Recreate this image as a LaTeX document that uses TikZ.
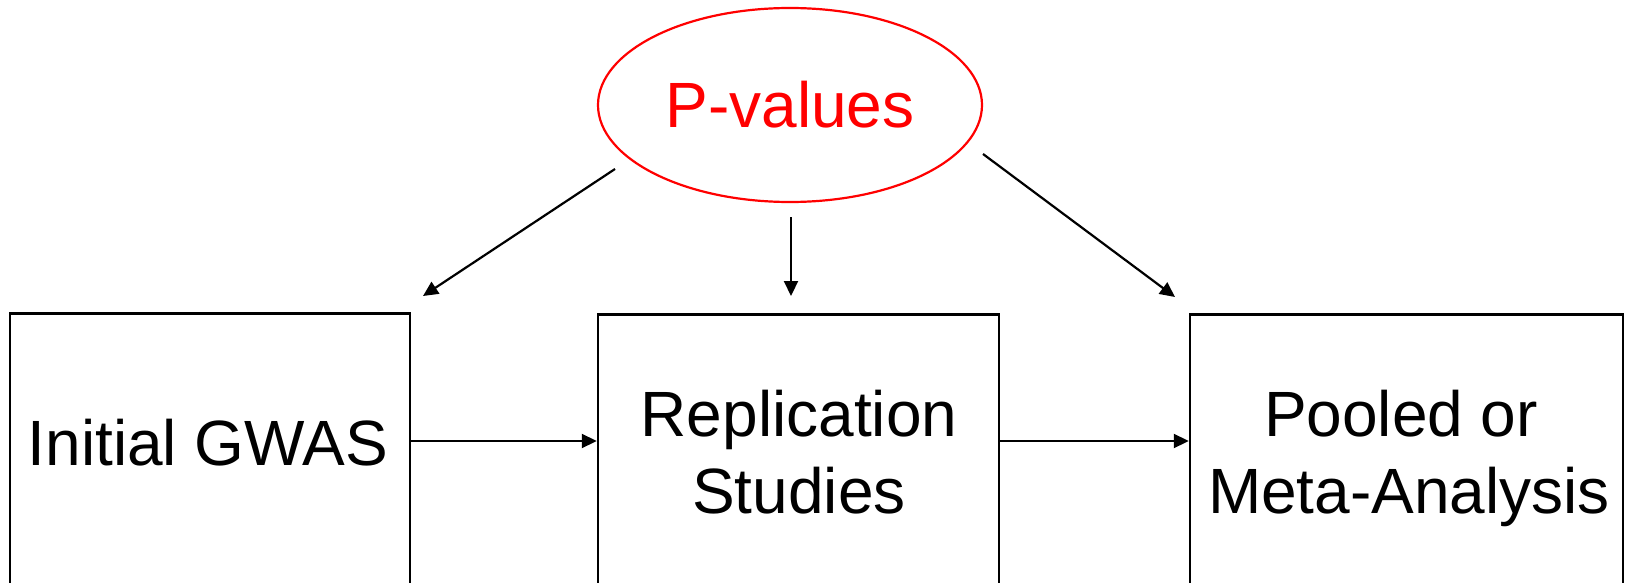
\documentclass[tikz,border=0pt]{standalone}
\usepackage{fontspec}
\setmainfont{Liberation Sans}
\usetikzlibrary{shapes.geometric,arrows.meta}
\tikzset{
  boxnode/.style={draw=black, line width=2.5pt, minimum width=400pt, minimum height=400pt, anchor=north, inner sep=0pt},
  lbl/.style={font=\fontsize{64}{77}\selectfont, anchor=base, inner sep=0pt},
  conn/.style={line width=2.2pt, -{Triangle[length=15pt,width=14pt]}},
}
\begin{document}
\begin{tikzpicture}[x=1pt,y=-1pt]
\useasboundingbox (0,0) rectangle (1630,583);
\clip (0,0) rectangle (1630,583);
\fill[white] (0,0) rectangle (1630,583);
% ellipse
\node[ellipse, draw=red, line width=2.2pt, minimum width=384pt, minimum height=194pt, inner sep=0pt,
      text=red, font=\fontsize{64}{77}\selectfont] (pv) at (790,105) {P-values};
% boxes
\node[boxnode] (b1) at (210,312) {};
\node[boxnode, minimum width=401pt] (b2) at (798.5,313) {};
\node[boxnode, minimum width=433pt] (b3) at (1406.5,313) {};
% labels
\node[lbl] (t1) at (208,465) {Initial GWAS};
\node[lbl] (t2a) at (799,436) {Replication};
\node[lbl] (t2b) at (799,513) {Studies};
\node[lbl] (t3a) at (1401,436) {Pooled or};
\node[lbl] (t3b) at (1409,513) {Meta-Analysis};
% free ends
\coordinate (s1) at (615,169);
\coordinate (e1) at (423,296);
\coordinate (s2) at (791,217);
\coordinate (e2) at (791,296);
\coordinate (s3) at (983,154);
\coordinate (e3) at (1175,297);
\coordinate (h) at (0,441);
% connectors
\draw[conn] (s1) -- (e1);
\draw[conn] (s2) -- (e2);
\draw[conn] (s3) -- (e3);
\draw[conn] (b1.east |- h) -- (b2.west |- h);
\draw[conn] (b2.east |- h) -- (b3.west |- h);
\end{tikzpicture}
\end{document}
